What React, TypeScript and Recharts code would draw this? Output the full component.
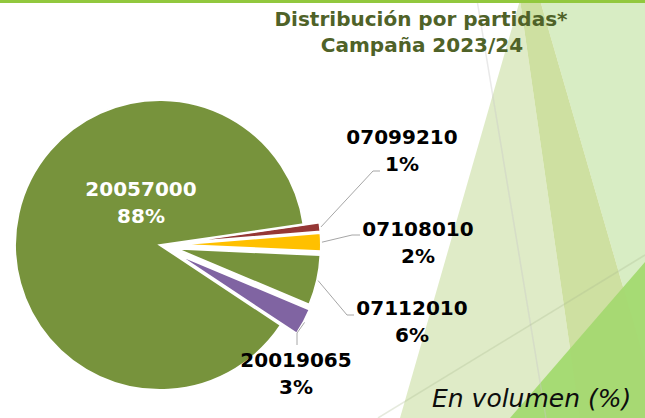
import React from 'react';
import { PieChart, Pie, Cell, Sector } from 'recharts';

// ---- data ----
const partidas = ['07099210', '07108010', '07112010', '20019065', '20057000'];
const shares = [1.0, 2.0, 5.6, 3.0, 88.4];
const titleLines = ['Distribución por partidas*', 'Campaña 2023/24'];
const footnote = 'En volumen (%)';

const data = partidas.map((name, i) => ({ name, value: shares[i] }));

// ---- styles ----
const COLORS: Record<string, string> = {
  '07099210': '#953735',
  '07108010': '#FFC000',
  '07112010': '#77933C',
  '20019065': '#8064A2',
  '20057000': '#77933C',
};
const EXPLODE: Record<string, number> = {
  '07099210': 16,
  '07108010': 16,
  '07112010': 16,
  '20019065': 18,
  '20057000': 0,
};
type Layout = { dx: number; dy: number; color: string; elbow?: [number, number]; end?: [number, number] };
const LABEL_LAYOUT: Record<string, Layout> = {
  '20057000': { dx: -19, dy: -49, color: '#FFFFFF' },
  '07099210': { dx: 242, dy: -101, color: '#000000', elbow: [213, -74], end: [220, -74] },
  '07108010': { dx: 258, dy: -9, color: '#000000', elbow: [192, -10], end: [200, -10] },
  '07112010': { dx: 252, dy: 70, color: '#000000', elbow: [187, 70], end: [194, 70] },
  '20019065': { dx: 136, dy: 122, color: '#000000', elbow: [137, 88], end: [137, 100] },
};

const RAD = Math.PI / 180;
const FONT = '"DejaVu Sans", Verdana, sans-serif';

const ExplodedSector = (props: any) => {
  const name = props.name ?? props.payload?.name;
  const d = EXPLODE[name] ?? 0;
  const a = -props.midAngle * RAD;
  return <Sector {...props} cx={props.cx + d * Math.cos(a)} cy={props.cy + d * Math.sin(a)} />;
};

const renderLabel = (props: any) => {
  const name = props.name ?? props.payload?.name;
  const lay = LABEL_LAYOUT[name];
  if (!lay) return null;
  const { cx, cy, midAngle, outerRadius, percent } = props;
  const pct = `${Math.round(percent * 100)}%`;
  const tx = cx + lay.dx;
  const ty = cy + lay.dy;
  let line = null;
  if (lay.elbow && lay.end) {
    const r = outerRadius + (EXPLODE[name] ?? 0) + 1;
    const sx = cx + r * Math.cos(-midAngle * RAD);
    const sy = cy + r * Math.sin(-midAngle * RAD);
    const pts = `${sx},${sy} ${cx + lay.elbow[0]},${cy + lay.elbow[1]} ${cx + lay.end[0]},${cy + lay.end[1]}`;
    line = <polyline points={pts} fill="none" stroke="#A6A6A6" strokeWidth={1} />;
  }
  return (
    <g>
      {line}
      <text
        x={tx}
        y={ty}
        textAnchor="middle"
        fill={lay.color}
        fontFamily={FONT}
        fontWeight="bold"
        fontSize={20}
      >
        <tspan x={tx} y={ty}>{name}</tspan>
        <tspan x={tx} y={ty + 27}>{pct}</tspan>
      </text>
    </g>
  );
};

const Background = () => (
  <svg width={645} height={418} style={{ position: 'absolute', left: 0, top: 0 }}>
    <rect x={0} y={0} width={645} height={418} fill="#FFFFFF" />
    <polygon points="520,0 580,418 400,418" fill="#DFEBC7" />
    <polygon points="540,0 645,0 645,418 661,418" fill="#D8EDC4" />
    <polygon points="520,0 540,0 661,418 580,418" fill="#D2E3A8" />
    <polygon points="510,418 645,262 645,418" fill="#A6DB74" />
    <polygon points="520,0 540,0 661,418 580,418" fill="#B8D070" opacity={0.12} />
    <line x1={477} y1={0} x2={546} y2={418} stroke="#C8C8C8" strokeOpacity={0.4} strokeWidth={1.5} />
    <line x1={378} y1={418} x2={645} y2={255} stroke="#A8B890" strokeOpacity={0.3} strokeWidth={1.5} />
    <rect x={0} y={0} width={645} height={3} fill="#92C83E" />
    <text x={421} y={26} textAnchor="middle" fill="#4F6228" fontFamily={FONT} fontWeight="bold" fontSize={20}>
      {titleLines[0]}
    </text>
    <text x={422} y={52} textAnchor="middle" fill="#4F6228" fontFamily={FONT} fontWeight="bold" fontSize={20}>
      {titleLines[1]}
    </text>
    <text x={432} y={407} fill="#0D0D0D" fontFamily={FONT} fontStyle="italic" fontSize={25}>
      {footnote}
    </text>
  </svg>
);

export default function App() {
  const pieExtra: any = { shape: ExplodedSector, inactiveShape: ExplodedSector, activeShape: ExplodedSector };
  return (
    <div style={{ position: 'absolute', left: 0, top: 0, width: 645, height: 418, overflow: 'hidden' }}>
      <Background />
      <div style={{ position: 'absolute', left: 0, top: 0 }}>
        <PieChart width={645} height={418} margin={{ top: 0, right: 0, bottom: 0, left: 0 }}>
          <Pie
            data={data}
            dataKey="value"
            nameKey="name"
            cx={160}
            cy={245}
            outerRadius={145}
            startAngle={8.2}
            endAngle={-351.8}
            stroke="#FFFFFF"
            strokeWidth={2}
            isAnimationActive={false}
            label={renderLabel}
            labelLine={false}
            {...pieExtra}
          >
            {data.map((d) => (
              <Cell key={d.name} fill={COLORS[d.name]} />
            ))}
          </Pie>
        </PieChart>
      </div>
    </div>
  );
}
